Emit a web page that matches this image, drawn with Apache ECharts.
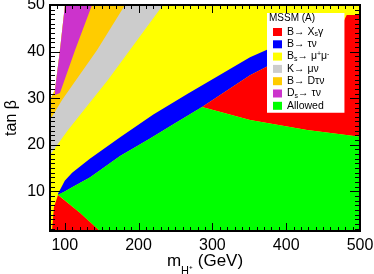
<!DOCTYPE html>
<html>
<head>
<meta charset="utf-8">
<script src="https://cdn.jsdelivr.net/npm/echarts@6/dist/echarts.min.js"></script>
<style>html,body{margin:0;padding:0;background:#fff}#c{width:374px;height:274px}</style>
</head>
<body>
<div id="c"></div>
<script>
// ---- axis ranges & tick labels ----
const X_MIN = 80, X_MAX = 500, Y_MIN = 1.5, Y_MAX = 50;
const xTickLabels = [100, 200, 300, 400, 500];
const yTickLabels = [10, 20, 30, 40, 50];

// ---- region boundaries [m_H+ (GeV), tan beta] ----
const yellowRegion = [[100.3,50],[500,50],[500,1.5],[80,1.5],[80,29.6],[86.8,31.8],[93.5,40.3]];
const greyRegion   = [[100.3,50],[233.1,50],[158.4,33.9],[104.4,23.2],[80,17.8],[80,29.6],[86.8,31.8],[93.5,40.3]];
const orangeRegion = [[100.3,50],[181.6,50],[143.6,40.3],[96.3,29.6],[80,25.3],[80,29.6],[86.8,31.8],[93.5,40.3]];
const purpleRegion = [[100.3,50],[136.9,50],[113.9,40.3],[93.5,31.1],[86.8,30.7],[86.8,31.8],[93.5,40.3]];
const blueUpper = [[90.8,9.5],[100,12.3],[110,14.0],[134,17.0],[175,21.6],[220,26.5],[266,30.9],[310,35.0],[351,38.8],[400,42.2],[450,45.3],[470,46.4]];
const blueLower = [[90.8,9.2],[100,10.0],[110,10.9],[134,13.0],[175,17.6],[215,21.3],[250,24.7],[286,28.1],[351,34.9],[400,38.9],[450,42.5],[470,44.0]];
const redUpperRight = [[286,28.1],[351,34.9],[400,38.9],[450,42.5],[470,44.0],[482,47.85],[500,47.85],[500,21.7],[428.2,23.2],[351,25.3]];
const redLowerLeft  = [[90.8,9.2],[120.6,5.4],[147.7,1.5],[82.7,1.5],[85.4,6.65]];
const greenRegion = [[90.8,9.3],[100,10.0],[110,10.9],[134,13.0],[175,17.6],[215,21.3],[250,24.7],[286,28.1],[351,25.3],[428.2,23.2],[500,21.7],[500,1.5],[147.7,1.5],[120.6,5.4]];

// ---- legend ----
const legendNames = ['B\u2192 Xs\u03b3','B\u2192 \u03c4\u03bd','Bs\u2192 \u03bc+\u03bc-','K\u2192 \u03bc\u03bd','B\u2192 D\u03c4\u03bd','Ds\u2192 \u03c4\u03bd','Allowed'];
const legendRich  = ['B\u2192 X{sub|s}\u03b3','B\u2192 \u03c4\u03bd','B{sub|s}\u2192 \u03bc{sup|+}\u03bc{sup|-}','K\u2192 \u03bc\u03bd','B\u2192 D\u03c4\u03bd','D{sub|s}\u2192 \u03c4\u03bd','Allowed'];
const colors = {red:'#ff0000', blue:'#0000ff', yellow:'#ffff00', grey:'#cccccc', orange:'#ffcc00', purple:'#cc33cc', green:'#00ff00'};

const FONT = "'Liberation Sans', Arial, Helvetica, sans-serif";
const blueRegion = blueUpper.concat(blueLower.slice().reverse());

function poly(name, color, pts) {
  return {
    name: name, type: 'custom', coordinateSystem: 'cartesian2d',
    silent: true, animation: false, z: 2,
    itemStyle: {color: color},
    encode: {x: 0, y: 1},
    data: pts,
    renderItem: function (params, api) {
      if (params.dataIndex !== 0) return null;
      return {type: 'polygon', shape: {points: pts.map(p => api.coord(p))}, style: {fill: color}};
    }
  };
}

const xMinor = [], yMinor = [];
for (let v = 90; v < 500; v += 10) if (v % 100 !== 0) xMinor.push(v);
for (let v = 2; v < 50; v += 1) if (v % 10 !== 0) yMinor.push(v);

const px = v => Math.round(v) + 0.5;
const TICK = '#000000';
// ticks on all four sides, pointing into the frame
function tickSeries(values, axis, len) {
  return {
    type: 'custom', coordinateSystem: 'cartesian2d', silent: true, animation: false, z: 20,
    encode: {x: 0, y: 1},
    data: values.map(v => axis === 'x' ? [v, Y_MIN] : [X_MIN, v]),
    renderItem: function (params, api) {
      const v = values[params.dataIndex];
      const st = {stroke: TICK, lineWidth: 1};
      if (axis === 'x') {
        const b = api.coord([v, Y_MIN]), t = api.coord([v, Y_MAX]);
        const x = px(b[0]);
        return {type: 'group', children: [
          {type: 'line', shape: {x1: x, y1: b[1], x2: x, y2: b[1] - len}, style: st},
          {type: 'line', shape: {x1: x, y1: t[1], x2: x, y2: t[1] + len}, style: st}]};
      }
      const l = api.coord([X_MIN, v]), r = api.coord([X_MAX, v]);
      const y = px(l[1]);
      return {type: 'group', children: [
        {type: 'line', shape: {x1: l[0], y1: y, x2: l[0] + len, y2: y}, style: st},
        {type: 'line', shape: {x1: r[0], y1: y, x2: r[0] - len, y2: y}, style: st}]};
    }
  };
}
const frameSeries = {
  type: 'custom', coordinateSystem: 'cartesian2d', silent: true, animation: false, z: 21,
  encode: {x: 0, y: 1}, data: [[X_MIN, Y_MIN]],
  renderItem: function (params, api) {
    const a = api.coord([X_MIN, Y_MAX]), b = api.coord([X_MAX, Y_MIN]);
    return {type: 'rect', shape: {x: Math.round(a[0]), y: Math.round(a[1]), width: Math.round(b[0] - a[0]), height: Math.round(b[1] - a[1])},
      style: {fill: 'none', stroke: TICK, lineWidth: 2}};
  }
};

const chart = echarts.init(document.getElementById('c'), null, {renderer: 'canvas'});
chart.setOption({
  animation: false,
  backgroundColor: '#fff',
  grid: {left: 50, right: 14, top: 5, bottom: 43, containLabel: false, outerBoundsMode: 'none'},
  xAxis: {
    type: 'value', min: X_MIN, max: X_MAX,
    axisLine: {show: false}, axisTick: {show: false}, splitLine: {show: false},
    axisLabel: {customValues: xTickLabels, fontSize: 16, color: '#000', margin: 7, fontFamily: FONT},
    name: 'm{sub|H\u207a} (GeV)', nameLocation: 'middle', nameGap: 22, nameMoveOverlap: false,
    nameTextStyle: {fontSize: 17, color: '#000', fontFamily: FONT,
      rich: {sub: {fontSize: 11, fontFamily: FONT, color: '#000', verticalAlign: 'bottom', lineHeight: 10, padding: [0,0,-6,0]}}}
  },
  yAxis: {
    type: 'value', min: Y_MIN, max: Y_MAX,
    axisLine: {show: false}, axisTick: {show: false}, splitLine: {show: false},
    axisLabel: {customValues: yTickLabels, fontSize: 16, color: '#000', margin: 5, fontFamily: FONT},
    name: 'tan \u03b2', nameLocation: 'middle', nameGap: 30, nameMoveOverlap: false,
    nameTextStyle: {fontSize: 16, color: '#000', fontFamily: FONT}
  },
  title: {text: 'MSSM (A)', left: 269, top: 13, padding: 0, z: 30,
    textStyle: {fontSize: 10, fontWeight: 'normal', color: '#000', fontFamily: FONT}},
  legend: {
    data: legendNames, orient: 'vertical', left: 267, top: 13, z: 25,
    backgroundColor: '#fff', padding: [13, 15, 1, 6],
    itemWidth: 9, itemHeight: 8, itemGap: 0.3, icon: 'rect',
    formatter: function (name) { return legendRich[legendNames.indexOf(name)]; },
    textStyle: {fontSize: 10.5, lineHeight: 12, color: '#000', fontFamily: FONT,
      rich: {
        sub: {fontSize: 7, fontFamily: FONT, color: '#000', verticalAlign: 'bottom', lineHeight: 8},
        sup: {fontSize: 7, fontFamily: FONT, color: '#000', verticalAlign: 'top', lineHeight: 8}
      }}
  },
  series: [
    poly(legendNames[2], colors.yellow, yellowRegion),
    poly(legendNames[3], colors.grey, greyRegion),
    poly(legendNames[4], colors.orange, orangeRegion),
    poly(legendNames[5], colors.purple, purpleRegion),
    poly(legendNames[1], colors.blue, blueRegion),
    poly(legendNames[0], colors.red, redUpperRight),
    poly(legendNames[0], colors.red, redLowerLeft),
    poly(legendNames[6], colors.green, greenRegion),
    tickSeries(xTickLabels, 'x', 8),
    tickSeries(xMinor, 'x', 4),
    tickSeries(yTickLabels, 'y', 10),
    tickSeries(yMinor, 'y', 5),
    frameSeries
  ]
});
</script>
</body>
</html>
